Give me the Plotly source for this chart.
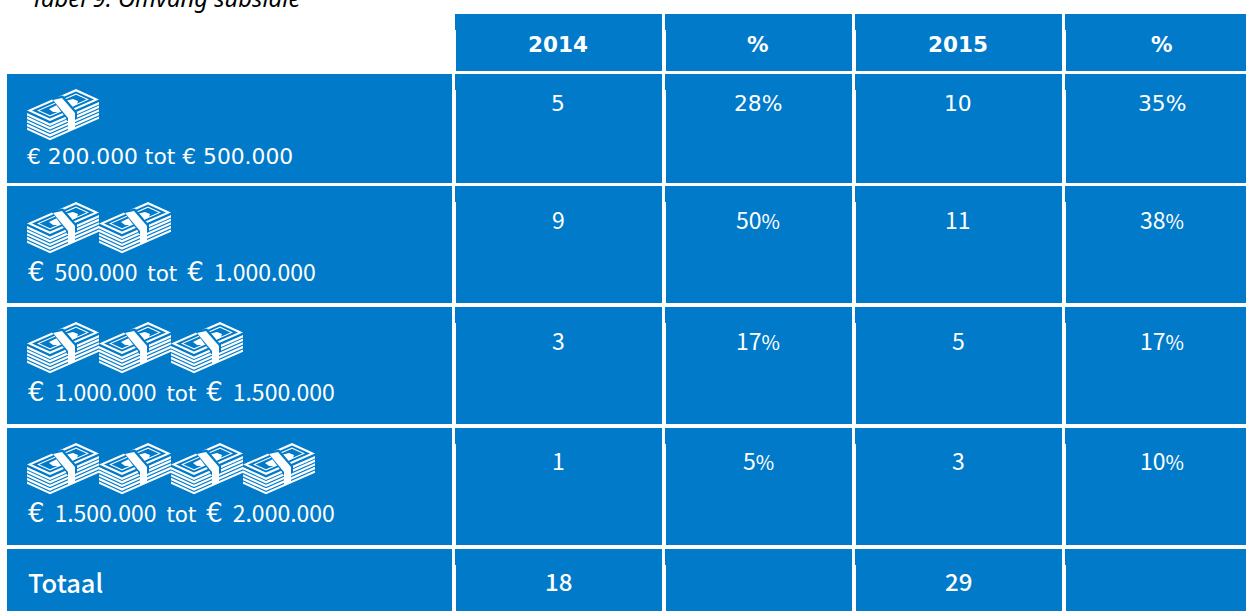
import plotly.graph_objects as go

# ---- data ----
title = "Tabel 9: Omvang subsidie"
headers = ["2014", "%", "2015", "%"]
range_from = ["€ 200.000", "€ 500.000", "€ 1.000.000", "€ 1.500.000"]
range_to = ["€ 500.000", "€ 1.000.000", "€ 1.500.000", "€ 2.000.000"]
icon_counts = [1, 2, 3, 4]
count_2014 = ["5", "9", "3", "1"]
pct_2014 = ["28%", "50%", "17%", "5%"]
count_2015 = ["10", "11", "5", "3"]
pct_2015 = ["35%", "38%", "17%", "10%"]
total_label = "Totaal"
total_2014 = "18"
total_2015 = "29"

# ---- layout grid (page pixels) ----
W, H = 1246, 611
BLUE = "#007ac9"
col_l = [7, 456, 666, 856, 1066]
col_r = [452, 662, 852, 1062, 1260]
row_t = [14, 74, 186, 307, 428, 549]
row_b = [71, 183, 303, 424, 545, 611]
val_y = [103, 218.5, 339.5, 459.5]
icon_y = [89, 202, 322, 443]
lab_y = [156, 270, 390, 511]
ICON_PITCH = 72
ICON_X = 27
WIN = "DejaVu Sans, Verdana, sans-serif"
JP = "Noto Sans CJK JP, sans-serif"

shapes, ann = [], []


def rect(x0, y0, x1, y1, color=BLUE):
    shapes.append(dict(type="rect", xref="x", yref="y", x0=x0, y0=y0, x1=x1, y1=y1,
                       fillcolor=color, line=dict(width=0), layer="below"))


def text(x, y, s, size=22, family=WIN, anchor="center", color="white", weight=None, italic=False, yshift=0):
    ann.append(dict(xref="x", yref="y", x=x, y=y, text=s, showarrow=False, xanchor=anchor,
                    yanchor="middle", borderpad=0, borderwidth=0, yshift=yshift,
                    font=dict(size=size, family=family, color=color,
                              weight=weight if weight else "normal",
                              style="italic" if italic else "normal")))


def P(pts, ox, oy):
    return "M" + " L".join(f"{ox + a:.1f},{oy + b:.1f}" for a, b in pts) + " Z"


def icon(ox, oy):
    """Stack of banknotes; local origin at icon top-left."""
    paths = []
    for k in range(4, -1, -1):
        d = 3.6 * k
        paths.append(("white", [(0, 24 + d), (23, 34.5 + d), (72, 13 + d), (72, 15.4 + d),
                                (23, 36.9 + d), (0, 26.4 + d)]))
    paths.append(("white", [(0, 21.5), (49, 0), (72, 10.5), (23, 32)]))
    paths.append((BLUE, [(5, 21.5), (49, 2.5), (67, 10.5), (23, 29.5)]))
    paths.append(("white", [(10, 21.5), (49, 4.5), (62, 10.5), (23, 27.5)]))
    paths.append((BLUE, [(12.5, 21.5), (49, 5.7), (59.5, 10.5), (23, 26.3)]))
    paths.append(("white", [(22, 20), (28, 17), (38, 12), (46, 10), (51, 12), (50, 15), (42, 20), (32, 23), (26, 23)]))
    paths.append((BLUE, [(24, 9), (36, 6.5), (50, 23), (50, 30), (40, 32), (39, 29)]))
    paths.append(("white", [(26, 11), (35, 9), (48, 24), (48, 39), (41, 42), (41, 29)]))
    for c, pts in paths:
        shapes.append(dict(type="path", xref="x", yref="y", path=P(pts, ox, oy),
                           fillcolor=c, line=dict(width=0), layer="above"))


def gap():
    return "<span style='font-family:DejaVu Sans;font-size:31px'> </span>"


def money(s):
    sym, num = s.split(" ")
    return (f"<span style='font-family:DejaVu Sans;font-size:26px'>{sym}</span>{gap()}"
            f"<span style='font-family:{JP};font-size:23px'>{num}</span>")


def pct(s):
    return f"{s[:-1]}<span style='font-size:20px'>%</span>"


for c in range(1, 5):
    rect(col_l[c], row_t[0], col_r[c], row_b[0])
    rect(col_l[c] - 1, row_t[0], col_r[c], row_t[0] + 16)
    text((col_l[c] + col_r[c]) / 2 - 1, 44, headers[c - 1], size=21.5, weight="bold")

for r in range(1, 6):
    for c in range(5):
        rect(col_l[c], row_t[r], col_r[c], row_b[r])
        if c:
            rect(col_l[c] - 1, row_t[r], col_r[c], row_t[r] + 16)

for i in range(4):
    for c, vals in enumerate([count_2014, pct_2014, count_2015, pct_2015], start=1):
        s = vals[i]
        if i == 0:
            text((col_l[c] + col_r[c]) / 2 - 1, val_y[i], s, size=21.8)
        else:
            text((col_l[c] + col_r[c]) / 2 - 1, val_y[i], pct(s) if s.endswith("%") else s, size=23, family=JP)
    for n in range(icon_counts[i]):
        icon(ICON_X + n * ICON_PITCH, icon_y[i])
    if i == 0:
        text(ICON_X, lab_y[i], f"{range_from[i]} tot {range_to[i]}", size=21.8, anchor="left")
    else:
        lab = f"{money(range_from[i])}{gap()}tot{gap()}{money(range_to[i])}"
        text(ICON_X + 1, lab_y[i], lab, size=21.5, anchor="left")

text(28, 581, total_label, size=25.5, family=JP, anchor="left", weight=500)
text((col_l[1] + col_r[1]) / 2 - 1, 580, total_2014, size=24, family=JP, weight=500)
text((col_l[3] + col_r[3]) / 2 - 1, 580, total_2015, size=24, family=JP, weight=500)
text(31, 0, title, size=23.8, family="Noto Sans, sans-serif", anchor="left", color="black", italic=True, yshift=2)

fig = go.Figure()
fig.update_layout(
    width=W, height=H, margin=dict(l=0, r=0, t=0, b=0, pad=0),
    paper_bgcolor="white", plot_bgcolor="white", showlegend=False,
    xaxis=dict(range=[0, W], visible=False, fixedrange=True),
    yaxis=dict(range=[H, 0], visible=False, fixedrange=True),
    shapes=shapes, annotations=ann,
)
fig.write_html("out.html", config={"displayModeBar": False},
               post_script="document.body.style.margin='0';document.documentElement.style.overflow='hidden';")
